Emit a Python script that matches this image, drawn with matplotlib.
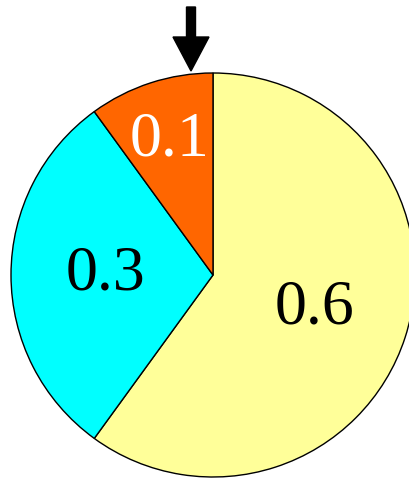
import numpy as np
import matplotlib.pyplot as plt

values = [0.6, 0.3, 0.1]
labels = ['0.6', '0.3', '0.1']
colors = ['#FFFF99', '#00FFFF', '#FF6600']
text_colors = ['black', 'black', 'white']
label_dist = [0.53, 0.53, 0.70]

W, H = 409, 479
fig = plt.figure(figsize=(W / 100, H / 100), dpi=100)
ax = fig.add_axes([0, 0, 1, 1])
ax.set_xlim(0, W)
ax.set_ylim(0, H)
ax.set_aspect('equal')
ax.axis('off')

cx, cy, r = 213, H - 275, 202
wedges, _ = ax.pie(values, colors=colors, startangle=90, counterclock=False,
                   center=(cx, cy), radius=r, frame=True,
                   wedgeprops=dict(edgecolor='black', linewidth=1))
ax.set_xlim(0, W)
ax.set_ylim(0, H)
ax.axis('off')

# labels placed along each wedge's middle angle
for w, lab, tc, d in zip(wedges, labels, text_colors, label_dist):
    mid = np.deg2rad((w.theta1 + w.theta2) / 2)
    ax.text(cx + d * r * np.cos(mid), cy + d * r * np.sin(mid), lab,
            ha='center', va='center', color=tc, fontsize=46,
            family='Liberation Serif')

# pointer arrow at the top
ax.arrow(191, H - 7, 0, -64, width=9, head_width=36, head_length=34,
         length_includes_head=True, color='black')

fig.savefig('out.png', dpi=100)
